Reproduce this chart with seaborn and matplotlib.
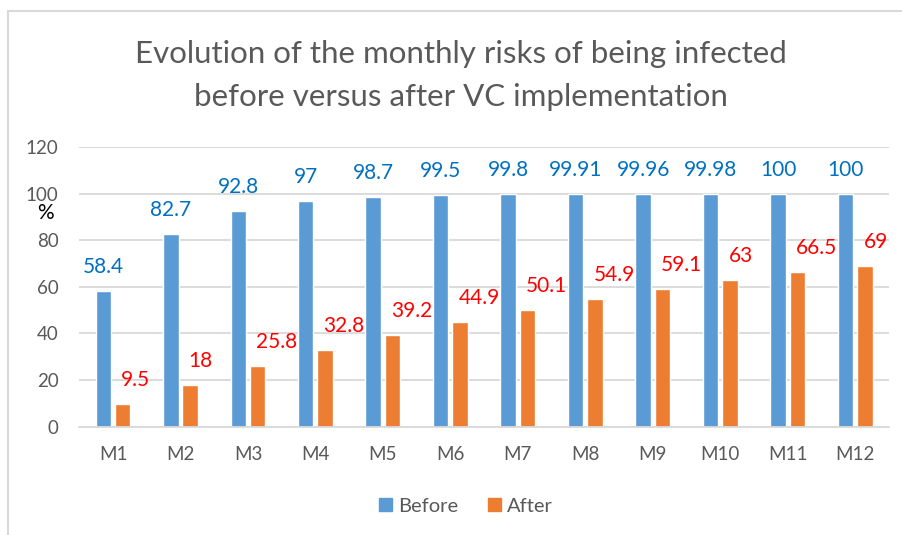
import pandas as pd
import seaborn as sns
import matplotlib.pyplot as plt
from matplotlib.lines import Line2D

months = ["M1", "M2", "M3", "M4", "M5", "M6", "M7", "M8", "M9", "M10", "M11", "M12"]
before = [58.4, 82.7, 92.8, 97, 98.7, 99.5, 99.8, 99.91, 99.96, 99.98, 100, 100]
after = [9.5, 18, 25.8, 32.8, 39.2, 44.9, 50.1, 54.9, 59.1, 63, 66.5, 69]
periods = ["Before", "After"]
yticks = [0, 20, 40, 60, 80, 100, 120]
title_lines = ["Evolution of the monthly risks of being infected",
               "before versus after VC implementation"]

BAR_COLORS = ["#5B9BD5", "#ED7D31"]
LABEL_COLORS = ["#0070C0", "#FF0000"]
GREY_TEXT = "#595959"
GRID = "#D9D9D9"

df = pd.DataFrame({
    "month": months * 2,
    "risk": before + after,
    "period": [periods[0]] * len(months) + [periods[1]] * len(months),
})

sns.set_style("white")
plt.rcParams["font.family"] = ["Lato", "DejaVu Sans"]

fig = plt.figure(figsize=(9.02, 5.35), dpi=100)
ax = fig.add_axes([0.0879, 0.2028, 0.8976, 0.5219])

sns.barplot(data=df, x="month", y="risk", hue="period", palette=BAR_COLORS,
            width=0.575, gap=0.2, saturation=1, ax=ax, legend=False)

ax.set_ylim(0, 120)
ax.set_yticks(yticks)
ax.set_xlim(-0.5, len(months) - 0.5)
ax.set_xlabel("")
ax.set_ylabel("")
ax.yaxis.grid(True, color=GRID, lw=1.3)
ax.set_axisbelow(True)
for side in ["top", "right", "left"]:
    ax.spines[side].set_visible(False)
ax.spines["bottom"].set_color(GRID)
ax.spines["bottom"].set_linewidth(1.3)
ax.tick_params(axis="both", length=0, labelsize=13.5, labelcolor=GREY_TEXT)
ax.tick_params(axis="y", pad=15)
ax.tick_params(axis="x", pad=14)

# value labels: blue centred over the bar, red to the upper right
for i, container in enumerate(ax.containers):
    for rect in container:
        h = rect.get_height()
        txt = f"{h:g}"
        if i == 0:
            ax.annotate(txt, (rect.get_x() + rect.get_width() / 2, h),
                        xytext=(0, 13), textcoords="offset points",
                        ha="center", va="baseline", fontsize=15, color=LABEL_COLORS[0])
        else:
            ax.annotate(txt, (rect.get_x(), h),
                        xytext=(4.5, 13), textcoords="offset points",
                        ha="left", va="baseline", fontsize=15, color=LABEL_COLORS[1])

ax.text(-0.042, 0.764, "%", transform=ax.transAxes, ha="center", va="center",
        fontsize=15, color="black")

# title, two lines placed on their own baselines
for line, y in zip(title_lines, [0.8822, 0.8019]):
    fig.text(0.511, y, line, ha="center", va="baseline", fontsize=22.5, color=GREY_TEXT)

handles = [plt.Rectangle((0, 0), 1, 1, color=c) for c in BAR_COLORS]
fig.legend(handles, periods, loc="center", bbox_to_anchor=(466 / 902, 1 - 506 / 535),
           ncol=2, frameon=False, fontsize=14.5, labelcolor=GREY_TEXT,
           handlelength=0.65, handleheight=0.65, handletextpad=0.3, columnspacing=1.5)

# chart frame (top and left edges visible)
fig.add_artist(Line2D([8 / 902, 1], [1 - 11 / 535, 1 - 11 / 535], color=GRID, lw=1.5))
fig.add_artist(Line2D([8 / 902, 8 / 902], [0, 1 - 11 / 535], color=GRID, lw=1.5))

fig.savefig("out.png", dpi=100, facecolor="white")
